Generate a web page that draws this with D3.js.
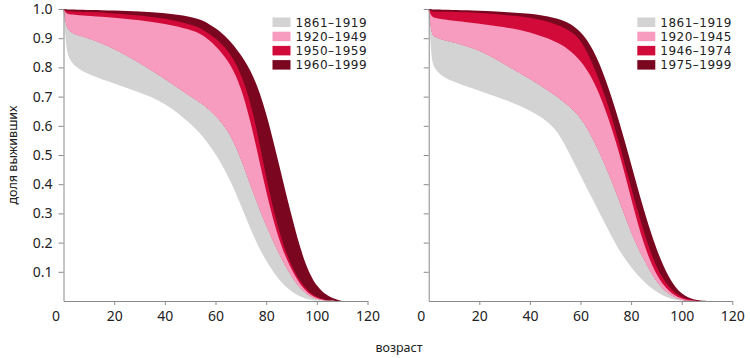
<!DOCTYPE html>
<html>
<head>
<meta charset="utf-8">
<script src="https://cdn.jsdelivr.net/npm/d3@7"></script>
<style>
  body { margin: 0; background: #fff; }
  svg { display: block; font-family: "Noto Sans", "Open Sans", sans-serif; }
</style>
</head>
<body>
<svg id="chart" width="750" height="358"></svg>
<script>
// ---- data ----
const ages = [0, 1, 2, 5, 10, 20, 30, 40, 50, 55, 60, 65, 70, 75, 80, 85, 90, 95, 100, 105, 110];

const leftLabels  = ["1861–1919", "1920–1949", "1950–1959", "1960–1999"];
const rightLabels = ["1861–1919", "1920–1945", "1946–1974", "1975–1999"];

// band boundaries (survival share by age), bottom to top
const left_b0 = [1, 0.87, 0.83, 0.80, 0.775, 0.745, 0.715, 0.68, 0.61, 0.565, 0.505, 0.43, 0.33, 0.22, 0.135, 0.072, 0.03, 0.008, 0, 0, 0];
const left_b1 = [1, 0.94, 0.925, 0.91, 0.90, 0.865, 0.815, 0.76, 0.70, 0.675, 0.635, 0.585, 0.49, 0.365, 0.255, 0.16, 0.08, 0.025, 0.004, 0, 0];
const left_b2 = [1, 0.985, 0.982, 0.98, 0.977, 0.97, 0.962, 0.95, 0.93, 0.912, 0.875, 0.825, 0.74, 0.575, 0.37, 0.205, 0.105, 0.035, 0.007, 0, 0];
const left_b3 = [1, 0.993, 0.992, 0.991, 0.99, 0.985, 0.978, 0.968, 0.948, 0.932, 0.90, 0.86, 0.785, 0.65, 0.42, 0.235, 0.115, 0.045, 0.01, 0, 0];
const left_b4 = [1, 0.999, 0.998, 0.998, 0.997, 0.995, 0.992, 0.986, 0.975, 0.962, 0.935, 0.90, 0.845, 0.775, 0.65, 0.47, 0.29, 0.13, 0.045, 0.012, 0];

const right_b0 = [1, 0.83, 0.80, 0.77, 0.75, 0.72, 0.69, 0.655, 0.60, 0.515, 0.43, 0.345, 0.26, 0.175, 0.115, 0.065, 0.03, 0.008, 0, 0, 0];
const right_b1 = [1, 0.915, 0.905, 0.895, 0.885, 0.86, 0.81, 0.76, 0.705, 0.67, 0.63, 0.555, 0.46, 0.35, 0.23, 0.14, 0.062, 0.02, 0, 0, 0];
const right_b2 = [1, 0.975, 0.97, 0.965, 0.96, 0.95, 0.938, 0.922, 0.89, 0.865, 0.825, 0.76, 0.655, 0.52, 0.35, 0.19, 0.085, 0.03, 0.005, 0, 0];
const right_b3 = [1, 0.992, 0.991, 0.99, 0.99, 0.987, 0.98, 0.972, 0.95, 0.93, 0.90, 0.81, 0.70, 0.55, 0.39, 0.235, 0.11, 0.045, 0.01, 0, 0];
const right_b4 = [1, 0.999, 0.998, 0.998, 0.997, 0.994, 0.99, 0.985, 0.97, 0.955, 0.925, 0.865, 0.76, 0.625, 0.47, 0.31, 0.175, 0.075, 0.02, 0.003, 0];

const xTicks = [0, 20, 40, 60, 80, 100, 120];
const yTicks = [0.1, 0.2, 0.3, 0.4, 0.5, 0.6, 0.7, 0.8, 0.9, 1.0];
const colors = ["#d3d3d3", "#f89cbf", "#d20a3a", "#7a0620"];

// ---- drawing ----
const svg = d3.select("#chart");
const axisColor = "#8a8a8a";
const y = d3.scaleLinear().domain([0, 1]).range([301, 9]);

function panel(x0, x1, bounds, labels, showYLabels) {
  const x = d3.scaleLinear().domain([0, 120]).range([x0, x1]);
  const g = svg.append("g");

  const band = (lo, hi) => d3.area()
    .x((d, k) => x(ages[k]))
    .y0((d, k) => y(lo[k]))
    .y1((d, k) => y(hi[k]))
    .curve(d3.curveBasis)(ages);

  // upper bands drawn from the top of the first band (avoids seams), then the first band on top
  for (let i = labels.length - 1; i >= 1; i--) {
    g.append("path").attr("d", band(bounds[1], bounds[i + 1])).attr("fill", colors[i]);
  }
  g.append("path").attr("d", band(bounds[0], bounds[1])).attr("fill", colors[0]);

  // axes
  const yAxis = d3.axisLeft(y).tickValues(yTicks).tickSize(5).tickSizeOuter(0)
    .tickFormat(showYLabels ? d3.format(".1f") : () => "");
  const ya = g.append("g").attr("transform", `translate(${x0},0)`).call(yAxis);
  ya.select(".domain").attr("stroke", axisColor);
  ya.selectAll(".tick line").attr("stroke", axisColor);
  ya.selectAll(".tick text").attr("x", -11).attr("font-size", 14)
    .attr("fill", "#222").attr("font-family", "Noto Sans, sans-serif");

  const xAxis = d3.axisBottom(x).tickValues(xTicks).tickSize(4).tickSizeOuter(0).tickFormat(d3.format("d"));
  const xa = g.append("g").attr("transform", `translate(0,${y(0)})`).call(xAxis);
  xa.select(".domain").attr("stroke", axisColor);
  xa.selectAll(".tick line").attr("stroke", axisColor);
  xa.selectAll(".tick text").attr("y", 10).attr("font-size", 14)
    .attr("fill", "#222").attr("font-family", "Noto Sans, sans-serif");
  xa.selectAll(".tick").filter(d => d === 0).select("text").attr("dx", -8);
  xa.selectAll(".tick").filter(d => d === 0).select("line").remove();

  // legend
  const lx = x1 - 95;
  const lg = g.append("g");
  labels.forEach((lab, i) => {
    const cy = 22 + i * 14.2;
    lg.append("rect").attr("x", lx).attr("y", cy - 4.5).attr("width", 18).attr("height", 9.5)
      .attr("fill", colors[i]);
    lg.append("text").attr("x", lx + 23).attr("y", cy + 4.6)
      .attr("font-family", "DejaVu Sans, sans-serif").attr("font-size", 12)
      .attr("letter-spacing", 0.5).attr("fill", "#222").text(lab);
  });
}

panel(63.5, 367.5, [left_b0, left_b1, left_b2, left_b3, left_b4], leftLabels, true);
panel(428.7, 732.3, [right_b0, right_b1, right_b2, right_b3, right_b4], rightLabels, false);

// axis titles
svg.append("text").attr("transform", "translate(17,155) rotate(-90)")
  .attr("text-anchor", "middle").attr("font-size", 12.5).attr("fill", "#222").text("доля выживших");
svg.append("text").attr("x", 399).attr("y", 352)
  .attr("text-anchor", "middle").attr("font-size", 12.5).attr("fill", "#222").text("возраст");
</script>
</body>
</html>
